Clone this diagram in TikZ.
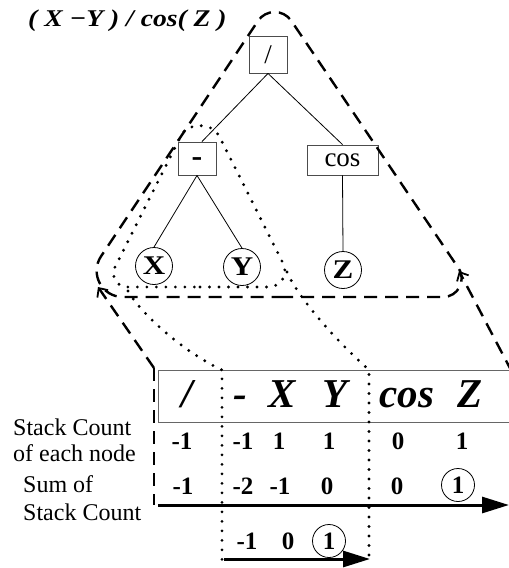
\documentclass[tikz,border=0pt]{standalone}
\usepackage{fontspec}
\setmainfont{Liberation Serif}
\newfontfamily\widefont[FakeStretch=1.15]{Liberation Serif}
\usetikzlibrary{arrows.meta}
\begin{document}
\begin{tikzpicture}[x=1pt,y=-1pt,
  tbox/.style={draw=black!70, line width=0.9pt, inner sep=0pt, font=\fontsize{27}{30}\selectfont},
  leaf/.style={circle, draw, line width=0.8pt, minimum size=37pt, inner sep=0pt, font=\widefont\fontsize{27}{30}\selectfont\bfseries},
  bigtxt/.style={anchor=base, inner sep=0pt, font=\fontsize{41}{48}\selectfont\bfseries\itshape},
  num/.style={anchor=base, inner sep=0pt, font=\fontsize{25}{30}\selectfont\bfseries},
  cnum/.style={circle, draw, line width=0.8pt, minimum size=33pt, inner sep=0pt, font=\fontsize{25}{30}\selectfont\bfseries},
  lab/.style={anchor=base west, inner sep=0pt, font=\fontsize{24}{28}\selectfont},
  edge/.style={line width=0.8pt},
  dashline/.style={line width=2.4pt, dash pattern=on 13pt off 8pt},
  dotline/.style={line width=3.2pt, line cap=round, dash pattern=on 0pt off 9.5pt},
  barb/.style={-{Straight Barb[length=7pt,width=13pt,line width=1.8pt]}},
  bigarrow/.style={line width=3pt, -{Triangle[length=27pt,width=16pt]}},
]
\useasboundingbox (0,0) rectangle (509,568);

% title
\node[anchor=base west, inner sep=0pt, font=\widefont\fontsize{24}{28}\selectfont\bfseries\itshape] (title) at (28,26) {( X −Y ) / cos( Z )};

% tree
\node[tbox, minimum width=38pt, minimum height=37pt] (slash) at (268,54.5) {/};
\node[tbox, minimum width=38pt, minimum height=33pt] (minus) at (197,158.5) {};
\node[anchor=center, inner sep=0pt, font=\fontsize{32}{32}\selectfont\bfseries] (minustxt) at (197,162) {-};
\node[tbox, minimum width=71pt, minimum height=30pt] (cosn) at (342.5,160) {cos};
\node[leaf] (X) at (154,266) {X};
\node[leaf] (Y) at (242,267) {Y};
\node[leaf] (Z) at (343,270) {Z};
\draw[edge] (slash.south) -- ([xshift=5pt]minus.north);
\draw[edge] (slash.south) -- (cosn.north);
\draw[edge] (minus.south) -- (X.north);
\draw[edge] (minus.south) -- (Y.north);
\draw[edge] (cosn.south) -- (Z.north);

% dashed loop
\draw[dashline] (280,297) -- (443,297) .. controls (458.05,297) and (466.8,280.5) .. (458.4,268)
  -- (291.3,20.8) .. controls (283.3,9.0) and (265.8,9.1) .. (257.9,21.0)
  -- (101.1,256.2) .. controls (89.4,273.7) and (101.9,297) .. (123,297) -- cycle;

% dotted loop
\draw[dotline] (200,287) -- (269,287) .. controls (280.7,287) and (288.6,274.2) .. (283.3,263.8)
  -- (218.9,135.5) .. controls (212.3,122.4) and (187.7,122.4) .. (181.1,135.5)
  -- (114.9,267.3) .. controls (110.4,276.2) and (117.1,287) .. (127,287) -- cycle;

% table
\coordinate (tl) at (154,368);
\coordinate (tr) at (512,372);
\coordinate (lefttip) at (98,287);
\coordinate (righttip) at (459,271);
\draw[black!60, line width=1pt] (158,370) rectangle (530,422);
\node[bigtxt] (tslash) at (187,407) {/};
\node[bigtxt] (tminus) at (240,407) {-};
\node[bigtxt] (tX) at (282,407) {X};
\node[bigtxt] (tY) at (335,407) {Y};
\node[bigtxt] (tcos) at (407,407) {cos};
\node[bigtxt] (tZ) at (470,407) {Z};

% dashed connectors
\draw[dashline, barb] (tl) -- (lefttip);
\draw[dashline] (tl) -- (154,505);
\draw[dashline, barb] (tr) -- (righttip);

% dotted connectors
\coordinate (dl0) at (128,291);
\coordinate (dr0) at (287,272);
\coordinate (dl1) at (222,370);
\coordinate (dr1) at (369,370);
\draw[dotline] (dl0) .. controls (140,312) and (180,350) .. (dl1) -- (222,560);
\draw[dotline] (dr0) .. controls (297,295) and (330,335) .. (dr1) -- (369,560);

% labels
\node[lab] (l1) at (13,435) {Stack Count};
\node[lab] (l2) at (13,461) {of each node};
\node[lab] (l3) at (23,492) {Sum of};
\node[lab] (l4) at (23,520) {Stack Count};

% row 1
\node[num] (r1a) at (182,449) {-1};
\node[num] (r1b) at (243,449) {-1};
\node[num] (r1c) at (279,449) {1};
\node[num] (r1d) at (329,449) {1};
\node[num] (r1e) at (398,449) {0};
\node[num] (r1f) at (462,449) {1};
% row 2
\node[num] (r2a) at (183,494) {-1};
\node[num] (r2b) at (243,494) {-2};
\node[num] (r2c) at (280,494) {-1};
\node[num] (r2d) at (327,494) {0};
\node[num] (r2e) at (397,494) {0};
\node[cnum] (r2f) at (458,485) {1};
% row 3
\node[num] (r3a) at (247,549) {-1};
\node[num] (r3b) at (288,549) {0};
\node[cnum] (r3c) at (329,541) {1};

% arrows
\coordinate (s0) at (158,505);
\coordinate (s1) at (509,505);
\draw[bigarrow] (s0) -- (s1);
\coordinate (p0) at (224,559);
\coordinate (p1) at (370,559);
\draw[bigarrow] (p0) -- (p1);
\end{tikzpicture}
\end{document}
